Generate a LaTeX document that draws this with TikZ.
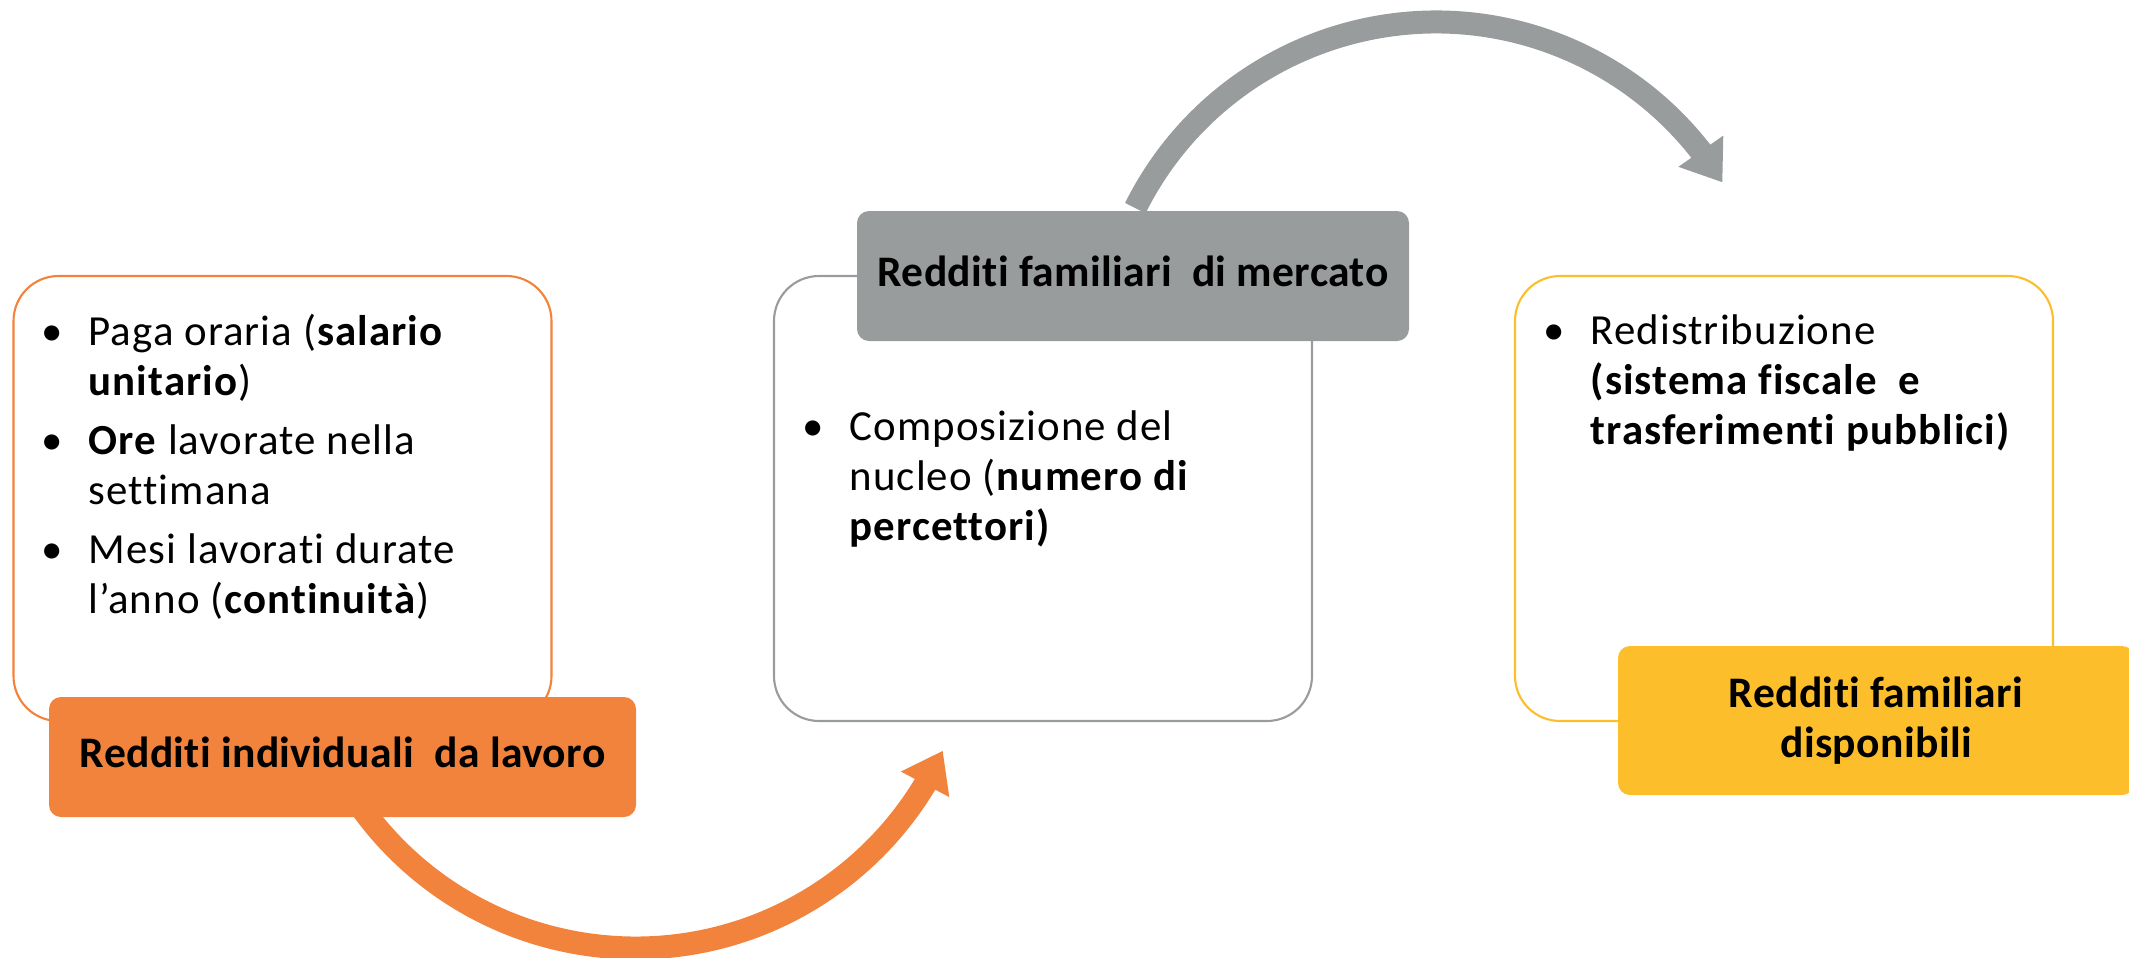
\documentclass[tikz,border=0pt]{standalone}
\usepackage{fontspec}
\setmainfont{Carlito}[Ligatures=NoCommon]
\usetikzlibrary{arrows.meta,bending}
\definecolor{arancio}{RGB}{241,131,60}
\definecolor{grigio}{RGB}{152,156,157}
\definecolor{giallo}{RGB}{252,190,43}
\tikzset{
  framebox/.style={draw, line width=0.6pt, rounded corners=0.45cm, minimum width=5.38cm, minimum height=4.45cm},
  bullets/.style={anchor=base west, inner sep=0pt, align=left, font=\fontsize{12.2}{14.2}\selectfont\addfontfeature{LetterSpace=2.5}},
  titlebox/.style={rounded corners=0.12cm, inner sep=0pt, align=center, font=\fontsize{12.4}{14.2}\selectfont\addfontfeature{LetterSpace=0.8}\bfseries},
  oneline/.style={text height=0.3cm, text depth=0.1cm},
  swing/.style={line width=0.23cm, -{Triangle[width=0.52cm,length=0.38cm]}}
}
\newcommand{\punto}{\llap{\textbullet\hspace{0.26cm}}}
\begin{document}
\begin{tikzpicture}
  \useasboundingbox (0,0) rectangle (21.29,-9.58);
  \clip (0,0) rectangle (21.29,-9.58);
  % cornici
  \node[framebox, draw=arancio] (lavbox) at (2.825,-4.985) {};
  \node[framebox, draw=grigio] (merbox) at (10.43,-4.985) {};
  \node[framebox, draw=giallo] (disbox) at (17.84,-4.985) {};
  % elenchi (base = ultima riga)
  \node[bullets] (lavtxt) at (0.88,-6.13) {\punto Paga oraria (\textbf{salario}\\%
    \textbf{unitario})\\[0.09cm]%
    \punto\textbf{Ore} lavorate nella\\%
    settimana\\[0.09cm]%
    \punto Mesi lavorati durate\\%
    l’anno (\textbf{continuità})};
  \node[bullets] (mertxt) at (8.49,-5.40) {\punto Composizione del\\%
    nucleo (\textbf{numero di}\\%
    \textbf{percettori)}};
  \node[bullets] (distxt) at (15.90,-4.44) {\punto Redistribuzione\\%
    \textbf{(sistema fiscale~ e}\\%
    \textbf{trasferimenti pubblici)}};
  % frecce
  \coordinate (lavc) at (6.355,-6.10);
  \coordinate (merc) at (14.36,-3.58);
  \draw[swing, arancio] ([shift={(-146:3.38)}]lavc) arc[start angle=-146, end angle=-24.6, radius=3.38];
  \draw[swing, grigio] ([shift={(153.5:3.36)}]merc) arc[start angle=153.5, end angle=31.5, radius=3.36];
  % titoli
  \node[titlebox, oneline, fill=arancio, minimum width=5.87cm, minimum height=1.2cm] (lav) at (3.425,-7.57) {Redditi individuali~ da lavoro};
  \node[titlebox, oneline, fill=grigio, minimum width=5.52cm, minimum height=1.3cm] (mer) at (11.33,-2.76) {Redditi familiari~ di mercato};
  \node[titlebox, fill=giallo, minimum width=5.16cm, minimum height=1.49cm] (dis) at (18.76,-7.205) {Redditi familiari\\disponibili};
\end{tikzpicture}
\end{document}
